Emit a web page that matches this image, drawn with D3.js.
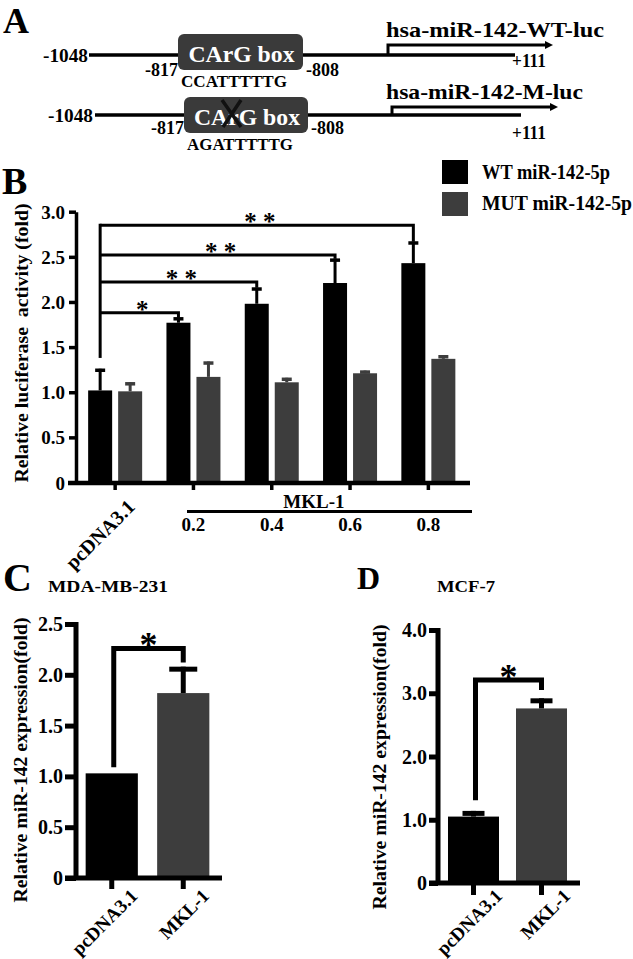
<!DOCTYPE html>
<html><head><meta charset="utf-8">
<script src="https://cdn.jsdelivr.net/npm/d3@7"></script>
<style>
body{margin:0;background:#fff}
svg{display:block}
text{font-family:"Liberation Serif","Times New Roman",serif;font-weight:bold;fill:#000;white-space:pre}
</style>
</head><body>
<svg id="fig" width="633" height="959"></svg>
<script>
// ---------------- data ----------------
const panelLetters = ["A","B","C","D"];
const constructNames = ["hsa-miR-142-WT-luc","hsa-miR-142-M-luc"];
const cargSequences = ["CCATTTTTG","AGATTTTTG"];
const promoterEnds = ["-1048","+111"];
const cargBounds = ["-817","-808"];
const boxLabel = "CArG box";

const bGroups = ["pcDNA3.1","0.2","0.4","0.6","0.8"];
const bSeries = ["WT miR-142-5p","MUT miR-142-5p"];
const bWT = [1.02,1.77,1.98,2.21,2.43];
const bWTsem = [0.24,0.06,0.18,0.27,0.24];
const bMUT = [1.01,1.17,1.11,1.21,1.37];
const bMUTsem = [0.10,0.17,0.05,0.03,0.04];
const bTicks = [0,0.5,1,1.5,2,2.5,3];
const bSigTargets = ["0.2","0.4","0.6","0.8"];
const bSigLevels = [1.88,2.22,2.52,2.85];
const bSigLabels = ["*","* *","* *","* *"];
const bSigStart = 1.38;
const bYLabel = "Relative luciferase  activity (fold)";
const bGroupLabel = "MKL-1";

const cTitle = "MDA-MB-231";
const cCats = ["pcDNA3.1","MKL-1"];
const cVals = [1.03,1.82];
const cSem = [0.0,0.26];
const cTicks = [0,0.5,1,1.5,2,2.5];
const cSig = [1.09,2.26,2.12]; // left start, top, right end
const dTitle = "MCF-7";
const dCats = ["pcDNA3.1","MKL-1"];
const dVals = [1.05,2.76];
const dSem = [0.09,0.16];
const dTicks = [0,1,2,3,4];
const dSig = [1.31,3.21,3.05];
const expYLabel = "Relative miR-142 expression(fold)";

const colWT = "#000", colMUT = "#3d3d3d";
const fmt = v => v === 0 ? "0" : v.toFixed(1);

const svg = d3.select("#fig");

function txt(g, x, y, s, size, o = {}) {
  const t = g.append("text").attr("font-size", size).text(s);
  if (o.rot !== undefined) t.attr("transform", `translate(${x},${y}) rotate(${o.rot})`);
  else t.attr("x", x).attr("y", y);
  if (o.anchor) t.attr("text-anchor", o.anchor);
  if (o.fill) t.style("fill", o.fill);
  if (o.len) t.attr("textLength", o.len).attr("lengthAdjust", "spacingAndGlyphs");
  return t;
}
function line(g, x1, y1, x2, y2, w) {
  return g.append("line").attr("x1", x1).attr("y1", y1).attr("x2", x2).attr("y2", y2)
    .attr("stroke", "#000").attr("stroke-width", w);
}

// ---------------- Panel A ----------------
const gA = svg.append("g");
txt(gA, 3, 33, panelLetters[0], 36);
const rows = [
  {y:55, x0:89, x1:515, bx:178, bw:125, by:34, bh:36, arrowX:388, arrowY:45, arrowEnd:553, nameY:37, seqY:87, endY:67, endX:512, lblY:76, leftX:88},
  {y:115, x0:95, x1:521, bx:184, bw:124, by:97, bh:36, arrowX:392, arrowY:107, arrowEnd:558, nameY:99, seqY:150, endY:139, endX:512, lblY:134, leftX:93}
];
rows.forEach((r, i) => {
  line(gA, r.x0, r.y, r.x1, r.y, 3.5);
  gA.append("rect").attr("x", r.bx).attr("y", r.by).attr("width", r.bw).attr("height", r.bh)
    .attr("rx", 6).attr("fill", "#3a3a3a");
  txt(gA, r.bx + r.bw/2 + 1, r.by + 28, boxLabel, 24, {anchor:"middle", fill:"#fff", len:106});
  txt(gA, r.leftX, r.y + 7, promoterEnds[0], 19, {anchor:"end", len:45});
  txt(gA, r.bx, r.lblY, cargBounds[0], 19, {anchor:"end", len:33});
  txt(gA, r.bx + r.bw + 3, r.lblY, cargBounds[1], 19, {len:33});
  txt(gA, r.bx + 3, r.seqY, cargSequences[i], 17, {len:106});
  txt(gA, r.endX, r.endY, promoterEnds[1], 18, {len:34});
  gA.append("path").attr("d", `M${r.arrowX},${r.y} V${r.arrowY} H${r.arrowEnd - 7}`)
    .attr("fill", "none").attr("stroke", "#000").attr("stroke-width", 3);
  gA.append("path").attr("d", `M${r.arrowEnd - 8},${r.arrowY - 4} L${r.arrowEnd},${r.arrowY} L${r.arrowEnd - 8},${r.arrowY + 4} Z`).attr("fill", "#000");
  txt(gA, 386, r.nameY, constructNames[i], 22, {len: i === 0 ? 218 : 197});
});
// cross over the CArG box of the mutant
gA.append("path").attr("d", "M222,100 L241,127 M241,100 L223,127")
  .attr("stroke", "#111").attr("stroke-width", 3.5).attr("fill", "none");

// ---------------- Panel B ----------------
const gB = svg.append("g");
txt(gB, 2, 194, panelLetters[1], 38);
const yB = d3.scaleLinear().domain([0,3]).range([482.5,211.7]);
const xB = d3.scaleBand().domain(bGroups).range([76,467.5]);
const xBs = d3.scaleBand().domain(bSeries).range([-27,27]).paddingInner(0.2);
const cB = g => xB(g) + xB.bandwidth()/2;

// legend
bSeries.forEach((s, i) => {
  gB.append("rect").attr("x", 442).attr("y", 160 + i*32).attr("width", 26).attr("height", 24)
    .attr("fill", i === 0 ? colWT : colMUT);
  txt(gB, 482, 179 + i*31, s, 20, {len: i === 0 ? 128 : 150});
});

// bars
const seriesData = [bWT, bMUT], semData = [bWTsem, bMUTsem];
bSeries.forEach((s, si) => {
  const col = si === 0 ? colWT : colMUT;
  bGroups.forEach((g, gi) => {
    const v = seriesData[si][gi], e = semData[si][gi];
    const x0 = cB(g) + xBs(s);
    const cx = x0 + xBs.bandwidth()/2;
    gB.append("rect").attr("x", x0).attr("y", yB(v)).attr("width", xBs.bandwidth())
      .attr("height", yB(0) - yB(v)).attr("fill", col);
    line(gB, cx, yB(v), cx, yB(v + e), 3).attr("stroke", col);
    line(gB, cx - 5, yB(v + e) + 1.5, cx + 5, yB(v + e) + 1.5, 3.5).attr("stroke", col);
  });
});

// axes
const yAxB = gB.append("g").attr("transform", "translate(76,0)")
  .call(d3.axisLeft(yB).tickValues(bTicks).tickSize(7).tickFormat("").tickSizeOuter(0));
yAxB.selectAll("path,line").attr("stroke", "#000").attr("stroke-width", 3.5);
bTicks.forEach(t => txt(gB, 65, yB(t) + 7, fmt(t), 19, {anchor:"end"}));
line(gB, 68, 483, 470, 483, 4.5);
const xAxB = gB.append("g").attr("transform", "translate(0,483)")
  .call(d3.axisBottom(xB).tickSize(7).tickFormat("").tickSizeOuter(0));
xAxB.select(".domain").remove();
xAxB.selectAll("line").attr("stroke", "#000").attr("stroke-width", 3.5);

// x labels
txt(gB, cB(bGroups[0]) + 21, 508, bGroups[0], 20, {anchor:"end", rot:-45});
bGroups.slice(1).forEach(g => txt(gB, cB(g), 531, g, 19, {anchor:"middle"}));
line(gB, 187, 511.5, 472, 511.5, 3);
txt(gB, (cB(bGroups[1]) + cB(bGroups[4]))/2 + 3, 508, bGroupLabel, 19, {anchor:"middle"});

// y label
txt(gB, 28, 343, bYLabel, 19, {anchor:"middle", rot:-90, len:279});

// significance brackets
const wtCenter = g => cB(g) + xBs(bSeries[0]) + xBs.bandwidth()/2;
const x0Sig = wtCenter(bGroups[0]);
line(gB, x0Sig, yB(bSigLevels[3]) - 1.5, x0Sig, yB(bSigStart), 3);
bSigTargets.forEach((g, i) => {
  const xe = wtCenter(g);
  const gi = bGroups.indexOf(g);
  const capY = yB(bWT[gi] + bWTsem[gi]);
  gB.append("path").attr("d", `M${x0Sig},${yB(bSigLevels[i])} H${xe} V${capY}`)
    .attr("fill", "none").attr("stroke", "#000").attr("stroke-width", 3);
  txt(gB, (x0Sig + xe)/2 + 3, yB(bSigLevels[i]) + 5, bSigLabels[i], 25, {anchor:"middle"});
});

// ---------------- Panels C & D ----------------
function expPanel(cfg) {
  const g = svg.append("g");
  txt(g, cfg.letterX, cfg.letterY, cfg.letter, cfg.letterSize);
  txt(g, cfg.titleX, 592, cfg.title, 17, {len: cfg.titleLen});
  const y = d3.scaleLinear().domain([0, cfg.max]).range([cfg.y0, cfg.yTop]);
  const x = d3.scaleBand().domain(cfg.cats).range([cfg.axX, cfg.xEnd])
    .paddingInner(cfg.pi).paddingOuter(cfg.po);
  const cx = c => x(c) + x.bandwidth()/2;
  cfg.cats.forEach((c, i) => {
    const v = cfg.vals[i], e = cfg.sem[i];
    g.append("rect").attr("x", x(c)).attr("y", y(v)).attr("width", x.bandwidth())
      .attr("height", y(0) - y(v)).attr("fill", i === 0 ? colWT : colMUT);
    if (e > 0) {
      line(g, cx(c), y(v), cx(c), y(v + e), 5).attr("stroke", i === 0 ? colWT : "#000");
      line(g, cx(c) - cfg.cap, y(v + e) + 2.5, cx(c) + cfg.cap, y(v + e) + 2.5, 5);
    }
  });
  const ya = g.append("g").attr("transform", `translate(${cfg.axX},0)`)
    .call(d3.axisLeft(y).tickValues(cfg.ticks).tickSize(cfg.tick).tickFormat("").tickSizeOuter(0));
  ya.selectAll("path,line").attr("stroke", "#000").attr("stroke-width", 5);
  ya.select(".domain").attr("d", `M0,${cfg.yTop - 2}V${cfg.y0}`);
  cfg.ticks.forEach(t => txt(g, cfg.axX - cfg.tick - 2, y(t) + 7, fmt(t), 20, {anchor:"end"}));
  line(g, cfg.axX - cfg.tick, cfg.y0, cfg.xEnd + 3, cfg.y0, 5);
  const xa = g.append("g").attr("transform", `translate(0,${cfg.y0})`)
    .call(d3.axisBottom(x).tickSize(cfg.xTick).tickFormat("").tickSizeOuter(0));
  xa.select(".domain").remove();
  xa.selectAll("line").attr("stroke", "#000").attr("stroke-width", 5);
  cfg.cats.forEach(c => txt(g, cx(c) + cfg.lblDx, cfg.y0 + cfg.lblDy, c, 19, {anchor:"end", rot:-45}));
  txt(g, cfg.ylX, cfg.ylY, expYLabel, 19, {anchor:"middle", rot:-90, len:285});
  const a = cx(cfg.cats[0]) + 2, b = cx(cfg.cats[1]);
  g.append("path").attr("d", `M${a},${y(cfg.sig[0])} V${y(cfg.sig[1])} H${b} V${y(cfg.sig[2])}`)
    .attr("fill", "none").attr("stroke", "#000").attr("stroke-width", 5);
  txt(g, (a + b)/2, y(cfg.sig[1]) + 9, "*", 36, {anchor:"middle"});
}
expPanel({letter:panelLetters[2], letterX:3, letterY:591, letterSize:40, title:cTitle, titleX:48, titleLen:120,
  cats:cCats, vals:cVals, sem:cSem, ticks:cTicks, sig:cSig, max:2.5, y0:878, yTop:624,
  axX:76, xEnd:219, pi:0.27, po:0.135, cap:14, tick:11, xTick:11, lblDx:27, lblDy:19, ylX:27, ylY:760});
expPanel({letter:panelLetters[3], letterX:357, letterY:589, letterSize:32, title:dTitle, titleX:437, titleLen:58,
  cats:dCats, vals:dVals, sem:dSem, ticks:dTicks, sig:dSig, max:4, y0:883, yTop:630,
  axX:438, xEnd:577, pi:0.25, po:0.147, cap:11, tick:9, xTick:12, lblDx:30, lblDy:14, ylX:386, ylY:767});
</script>
</body></html>
